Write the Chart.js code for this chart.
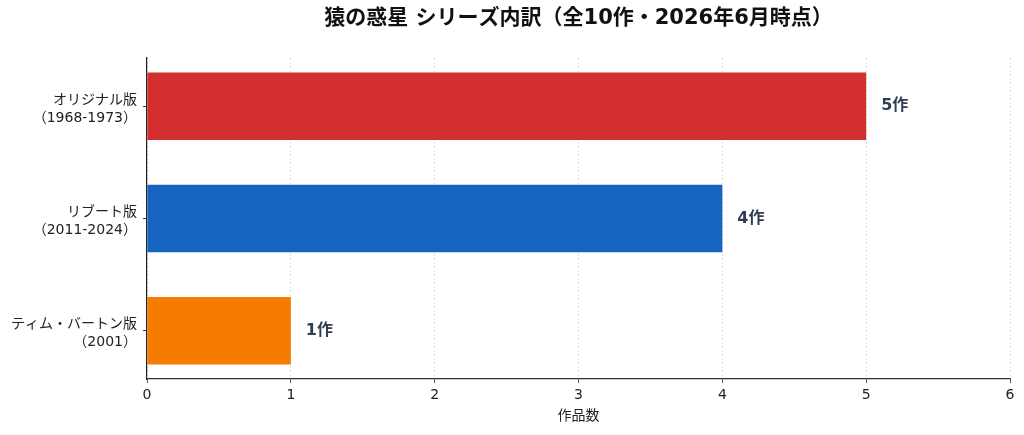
<!DOCTYPE html>
<html><head><meta charset="utf-8">
<script src="https://cdn.jsdelivr.net/npm/chart.js@4"></script>
<style>html,body{margin:0;padding:0;background:#fff}#wrap{width:1024px;height:435px}</style>
</head><body><div id="wrap"><canvas id="c" width="1024" height="435"></canvas></div>
<script>
const categories = [["オリジナル版", "（1968-1973）"], ["リブート版", "（2011-2024）"], ["ティム・バートン版", "（2001）"]];
const workCounts = [5, 4, 1];
const barColors = ["#d32f2f", "#1565c0", "#f57c00"];
const dataLabels = ["5作", "4作", "1作"];
const xTicks = [0, 1, 2, 3, 4, 5, 6];
const titleText = "猿の惑星 シリーズ内訳（全10作・2026年6月時点）";
const xTitle = "作品数";
const FONT = "'DejaVu Sans', 'Noto Sans CJK JP', sans-serif";

const points = workCounts.map((v, i) => ({x: v, y: i}));

const labelPlugin = {
  id: 'labels',
  afterDatasetsDraw(chart) {
    const ctx = chart.ctx;
    const meta = chart.getDatasetMeta(0);
    ctx.save();
    ctx.font = "bold 16px " + FONT;
    ctx.fillStyle = "#2c3e50";
    ctx.textAlign = "left";
    ctx.textBaseline = "middle";
    meta.data.forEach((bar, i) => {
      ctx.fillText(dataLabels[i], bar.x + 15, bar.y);
    });
    const ca = chart.chartArea;
    ctx.font = "bold 21px " + FONT;
    ctx.fillStyle = "#111";
    ctx.textAlign = "center";
    ctx.fillText(titleText, (ca.left + ca.right) / 2, 19);
    ctx.restore();
  }
};

new Chart(document.getElementById('c'), {
  type: 'bar',
  data: {
    datasets: [{
      data: points,
      backgroundColor: barColors,
      borderWidth: 0,
      barPercentage: 0.6,
      categoryPercentage: 1.0
    }]
  },
  options: {
    indexAxis: 'y',
    responsive: false,
    animation: false,
    layout: {padding: {top: 58, right: 14, left: 0, bottom: 10}},
    plugins: {legend: {display: false}, tooltip: {enabled: false}},
    scales: {
      x: {
        type: 'linear', min: 0, max: 6,
        afterBuildTicks(s) { s.ticks = xTicks.map(v => ({value: v})); },
        afterFit(s) { s.height = 46; },
        grid: {color: '#d9d9d9', lineWidth: 0.8, tickColor: '#333', tickLength: 4, drawTicks: true},
        border: {display: true, color: '#333', width: 1.2, dash: [2, 2]},
        ticks: {color: '#222', font: {family: FONT, size: 14}, padding: 4},
        title: {display: true, text: xTitle, color: '#222', font: {family: FONT, size: 14}, padding: {top: 2, bottom: 0}}
      },
      y: {
        type: 'linear', min: -0.43, max: 2.43, reverse: true, offset: false,
        afterBuildTicks(s) { s.ticks = categories.map((c, i) => ({value: i})); },
        afterFit(s) { s.width = 147; },
        grid: {offset: false, drawOnChartArea: false, drawTicks: true, tickLength: 4, tickColor: '#333'},
        border: {display: true, color: '#222', width: 1.2},
        ticks: {
          color: '#222', font: {family: FONT, size: 14, lineHeight: 1.28}, padding: 6, labelOffset: 3,
          callback: (v) => categories[v] || ''
        }
      }
    }
  },
  plugins: [labelPlugin]
});
</script>
</body></html>
